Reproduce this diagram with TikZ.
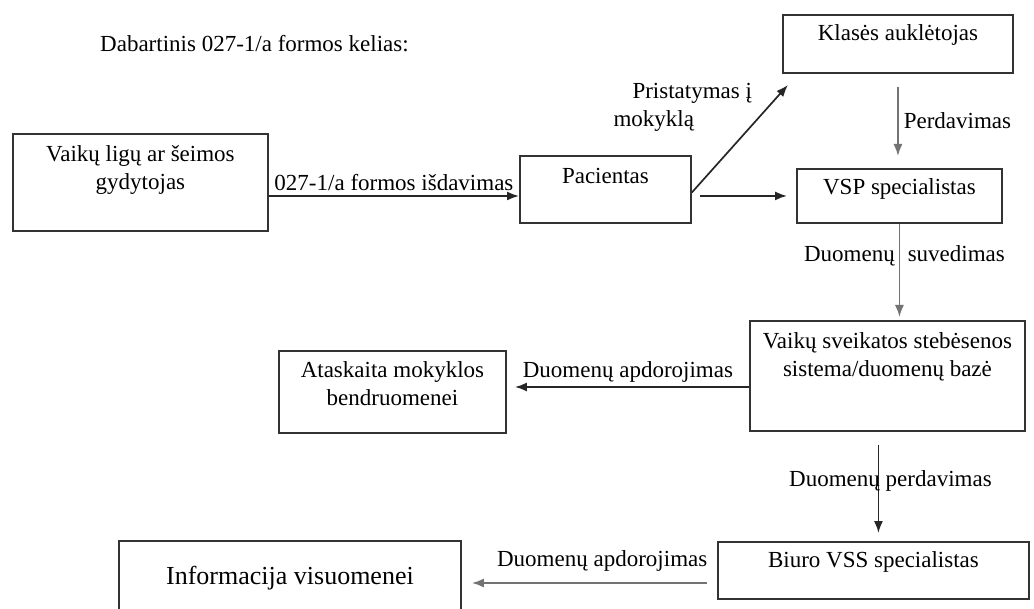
\documentclass[tikz,border=0pt]{standalone}
\usepackage{fontspec}
\setmainfont{Liberation Serif}
\usetikzlibrary{arrows.meta}

% text set at the top of a fixed box
\newcommand{\boxtext}[4][11pt]{\parbox[c][#3][t]{#2}{\centering\vspace*{#1}#4\par}}

\tikzset{
  stage/.style={draw=black!80, line width=1.9pt, inner sep=0pt, anchor=north west},
  flow/.style={->, line width=1.7pt, draw=black!85},
  softflow/.style={flow, draw=black!55},
  lbl/.style={inner sep=1pt}
}

\begin{document}
\begin{tikzpicture}[x=1pt, y=-1pt, >={Latex[length=12pt,width=9pt]},
    font=\fontsize{23}{28}\selectfont]
    \useasboundingbox (0,0) rectangle (1034,609);

    % Title
    \node[anchor=base west, inner sep=0pt] (title) at (100,52) {Dabartinis 027-1/a formos kelias:};

    % Boxes
    \node[stage] (gp) at (12,133) {\boxtext[12pt]{255pt}{97pt}{Vaikų ligų ar šeimos\\gydytojas}};
    \node[stage] (pac) at (519,155) {\boxtext[12pt]{171pt}{67pt}{Pacientas}};
    \node[stage] (kl) at (782,14) {\boxtext[10pt]{230pt}{58pt}{Klasės auklėtojas}};
    \node[stage] (vsp) at (796,168) {\boxtext[10pt]{205pt}{54pt}{VSP specialistas}};
    \node[stage] (vss) at (749,320) {\boxtext[12pt]{275pt}{110pt}{Vaikų sveikatos stebėsenos\\sistema/duomenų bazė}};
    \node[stage] (ata) at (278,350) {\boxtext{227pt}{82pt}{Ataskaita mokyklos\\bendruomenei}};
    \node[stage] (biuro) at (717,541) {\boxtext[10pt]{311pt}{57pt}{Biuro VSS specialistas}};
    \node[stage, font=\fontsize{26}{31}\selectfont] (info) at (118,540) {\boxtext[25pt]{342pt}{80pt}{Informacija visuomenei}};

    % Rows of the horizontal connectors
    \coordinate (rowA) at (0,196);
    \coordinate (rowB) at (0,387);
    \coordinate (rowC) at (0,583);
    \coordinate (vssout) at ([xshift=-9pt]vss.south);

    % Connectors
    \draw[flow] (gp.east |- rowA) -- (pac.west |- rowA)
        node[lbl, midway, above=3pt] {027-1/a formos išdavimas};
    \draw[flow] ([yshift=-3pt]pac.east) -- ([shift={(6,11)}]kl.south west)
        node[lbl, pos=0.79, anchor=east, xshift=-14pt, align=left] {\hspace{19pt}Pristatymas į\\mokyklą};
    \draw[softflow, shorten <=13pt, shorten >=12pt] (kl.south) -- (kl.south |- vsp.north)
        node[lbl, midway, right=4pt] {Perdavimas};
    \draw[flow, shorten <=8pt, shorten >=9pt] (pac.east |- vsp.west) -- (vsp.west);
    \draw[softflow, shorten >=3pt] (vsp.south) -- (vsp.south |- vss.north)
        node[lbl, pos=0.33, xshift=5pt] {Duomenų\hspace{13pt}suvedimas};
    \draw[flow, shorten >=8pt] (vss.west |- rowB) -- (ata.east |- rowB)
        node[lbl, midway, above=3pt] {Duomenų apdorojimas};
    \draw[flow, shorten <=13pt, shorten >=8pt] (vssout) -- (vssout |- biuro.north)
        node[lbl, pos=0.45, xshift=12pt] {Duomenų perdavimas};
    \draw[softflow, shorten <=10pt, shorten >=10pt] (biuro.west |- rowC) -- (info.east |- rowC)
        node[lbl, pos=0.45, above=10pt] {Duomenų apdorojimas};
\end{tikzpicture}
\end{document}
